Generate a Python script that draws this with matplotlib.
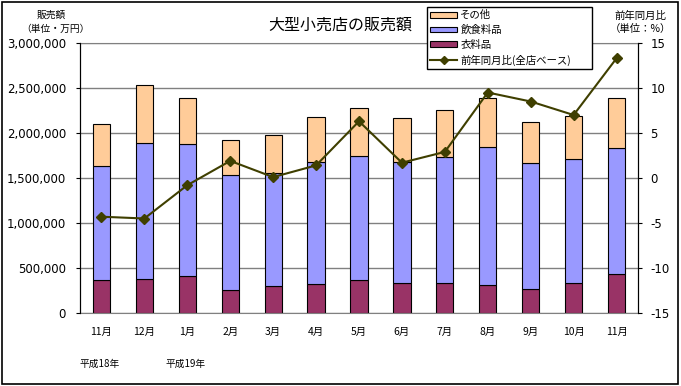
import numpy as np
import matplotlib
matplotlib.use("Agg")
import matplotlib.pyplot as plt
from matplotlib.patches import Rectangle
from matplotlib.lines import Line2D

plt.rcParams['font.family'] = ['Noto Sans CJK JP', 'DejaVu Sans']

months = ['11月', '12月', '1月', '2月', '3月', '4月', '5月', '6月', '7月', '8月', '9月', '10月', '11月']
clothing = [363000, 374000, 408000, 252000, 297000, 319000, 363000, 330000, 330000, 308000, 263000, 330000, 430000]
food_top = [1630000, 1886000, 1874000, 1530000, 1552000, 1674000, 1741000, 1674000, 1737000, 1841000, 1663000, 1708000, 1830000]
total = [2097000, 2530000, 2386000, 1919000, 1974000, 2174000, 2274000, 2163000, 2252000, 2386000, 2119000, 2186000, 2386000]
yoy = [-4.3, -4.5, -0.8, 1.9, 0.1, 1.4, 6.3, 1.7, 2.9, 9.5, 8.5, 7.0, 13.3]

food = [f - c for f, c in zip(food_top, clothing)]
other = [t - f for t, f in zip(total, food_top)]

c_cloth = '#993366'
c_food = '#9999FF'
c_other = '#FFCC99'
c_line = '#3F3F00'

fig = plt.figure(figsize=(6.81, 3.86), dpi=100)
ax = fig.add_axes([80/681, 73/386, 558/681, 270/386])
x = np.arange(len(months))
w = 0.4
ax.bar(x, clothing, w, color=c_cloth, edgecolor='black', linewidth=0.8, zorder=2)
ax.bar(x, food, w, bottom=clothing, color=c_food, edgecolor='black', linewidth=0.8, zorder=2)
ax.bar(x, other, w, bottom=food_top, color=c_other, edgecolor='black', linewidth=0.8, zorder=2)

ax.set_xlim(-0.5, len(months) - 0.5)
ax.set_ylim(0, 3000000)
ax.set_yticks(np.arange(0, 3000001, 500000))
ax.set_yticklabels([f'{v:,}' for v in range(0, 3000001, 500000)], fontsize=8.5, family='DejaVu Sans')
ax.yaxis.grid(True, color='#808080', linewidth=1, zorder=0)
ax.set_axisbelow(True)
ax.set_xticks(x)
ax.set_xticklabels(months, fontsize=7.5)
ax.tick_params(axis='x', length=0, pad=10)
ax.tick_params(axis='y', length=3, pad=7)
ax.spines['top'].set_color('#808080')
ax.spines['bottom'].set_color('#808080')

ax2 = ax.twinx()
ax2.plot(x, yoy, color=c_line, linewidth=1.5, marker='D', markersize=5, zorder=3)
ax2.set_ylim(-15, 15)
ax2.set_yticks(np.arange(-15, 16, 5))
ax2.set_yticklabels([str(v) for v in range(-15, 16, 5)], fontsize=8.5, family='DejaVu Sans')
ax2.tick_params(axis='y', length=3, pad=6)
ax2.spines['top'].set_visible(False)
ax2.spines['bottom'].set_visible(False)

handles = [
    Rectangle((0, 0), 1, 1, facecolor=c_other, edgecolor='black', linewidth=0.8),
    Rectangle((0, 0), 1, 1, facecolor=c_food, edgecolor='black', linewidth=0.8),
    Rectangle((0, 0), 1, 1, facecolor=c_cloth, edgecolor='black', linewidth=0.8),
    Line2D([], [], color=c_line, linewidth=1.5, marker='D', markersize=4),
]
labels = ['その他', '飲食料品', '衣料品', '前年同月比(全店ベース)']
leg = fig.legend(handles, labels, loc='upper left',
                 bbox_to_anchor=(427/681, 1 - 70/386, 165/681, 63/386), mode='expand',
                 fontsize=7.5, frameon=True, fancybox=False, edgecolor='black',
                 framealpha=1, handlelength=2.6, handleheight=0.5, labelspacing=0.45,
                 borderpad=0.3, handletextpad=0.3, borderaxespad=0)
leg.get_frame().set_linewidth(1)
leg.set_zorder(10)

fig.text(340/681, 1 - 25/386, '大型小売店の販売額', ha='center', va='center', fontsize=11.5)
fig.text(51/681, 1 - 15/386, '販売額', ha='center', va='center', fontsize=7)
fig.text(55/681, 1 - 29/386, '（単位・万円）', ha='center', va='center', fontsize=7)
fig.text(640/681, 1 - 16/386, '前年同月比', ha='center', va='center', fontsize=7.5)
fig.text(640/681, 1 - 29/386, '（単位：%）', ha='center', va='center', fontsize=7.5)
fig.text(100/681, 1 - 364/386, '平成18年', ha='center', va='center', fontsize=7)
fig.text(186/681, 1 - 364/386, '平成19年', ha='center', va='center', fontsize=7)

fig.patches.append(Rectangle((2/681, 2/386), 676/681, 382/386, transform=fig.transFigure,
                             fill=False, edgecolor='black', linewidth=1.2))

fig.savefig('out.png', dpi=100)
